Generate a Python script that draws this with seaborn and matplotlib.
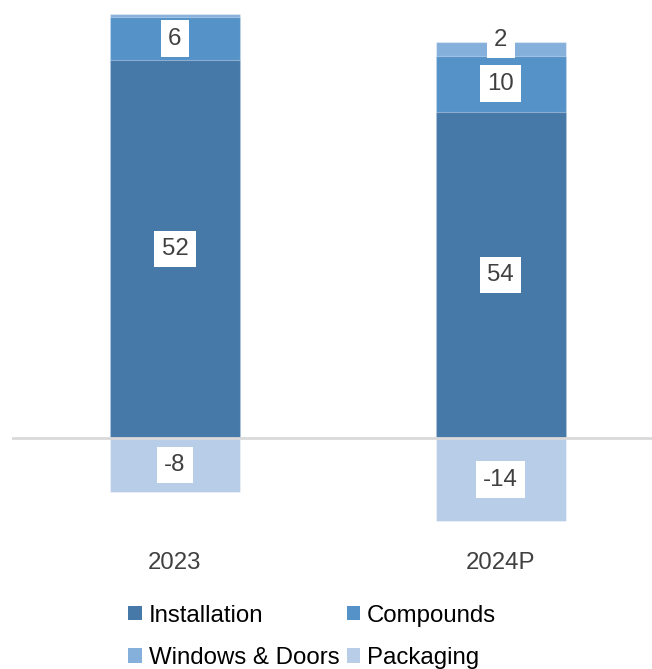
import matplotlib
matplotlib.use("Agg")
import matplotlib.pyplot as plt
from matplotlib.patches import Patch
import seaborn as sns
import pandas as pd
import numpy as np

# ---- data (bar lengths; labels as printed) ----
categories = ["2023", "2024P"]
installation = [52.0, 44.9]
compounds = [5.87, 7.70]
windows_doors = [0.45, 1.84]
packaging = [-7.34, -11.33]

installation_labels = ["52", "54"]
compounds_labels = ["6", "10"]
windows_doors_labels = [None, "2"]
packaging_labels = ["-8", "-14"]

series_names = ["Installation", "Compounds", "Windows & Doors", "Packaging"]
colors = {"Installation": "#4678A8", "Compounds": "#5592C8",
          "Windows & Doors": "#86B0DC", "Packaging": "#B8CDE7"}

sns.set_theme(style="white")
plt.rcParams["font.family"] = ["Liberation Sans", "DejaVu Sans"]

fig = plt.figure(figsize=(6.52, 6.69), dpi=100)
ax = fig.add_axes([12 / 652, 0.2078, 1 - 12 / 652, 0.7848])

df = pd.DataFrame({"category": categories,
                   "inst": installation, "comp": compounds,
                   "wd": windows_doors, "pack": packaging})
df["top_wd"] = df["inst"] + df["comp"] + df["wd"]
df["top_comp"] = df["inst"] + df["comp"]

edge = (1, 1, 1, 0.35)
for col, name in [("top_wd", "Windows & Doors"), ("top_comp", "Compounds"),
                  ("inst", "Installation"), ("pack", "Packaging")]:
    sns.barplot(data=df, x="category", y=col, color=colors[name], ax=ax,
                width=0.4, saturation=1, edgecolor=edge, linewidth=0.8,
                errorbar=None)

ax.axhline(0, color="#D9D9D9", lw=2, zorder=5)

ax.set_xlim(-0.5, 1.464)
ax.set_ylim(-12.6, 59.56)

# data labels
fs = 17.3
for i in range(len(categories)):
    inst, comp, wd, pack = installation[i], compounds[i], windows_doors[i], packaging[i]
    specs = [
        (installation_labels[i], inst / 2),
        (compounds_labels[i], inst + comp / 2),
        (windows_doors_labels[i], inst + comp + wd + 0.35),
        (packaging_labels[i], pack / 2),
    ]
    for lab, y in specs:
        if lab is None:
            continue
        ax.text(i, y, lab, ha="center", va="center", fontsize=fs,
                color="#404040",
                bbox=dict(boxstyle="square,pad=0.3", fc="white", ec="none"),
                zorder=6)

ax.set_xticks(range(len(categories)))
ax.set_xticklabels(categories, fontsize=fs, color="#404040")
ax.tick_params(axis="x", length=0, pad=16)
ax.set_yticks([])
ax.set_xlabel("")
ax.set_ylabel("")
for s in ax.spines.values():
    s.set_visible(False)

order = ["Installation", "Windows & Doors", "Compounds", "Packaging"]
handles = [Patch(facecolor=colors[n], edgecolor="none", label=n) for n in order]
fig.legend(handles=handles, loc="center", bbox_to_anchor=(0.479, 0.048),
           ncol=2, frameon=False, fontsize=fs, handlelength=0.55,
           handleheight=0.55, handletextpad=0.3, columnspacing=0.3,
           labelspacing=0.85, borderpad=0, labelcolor="#000000")

fig.savefig("out.png", dpi=100)
